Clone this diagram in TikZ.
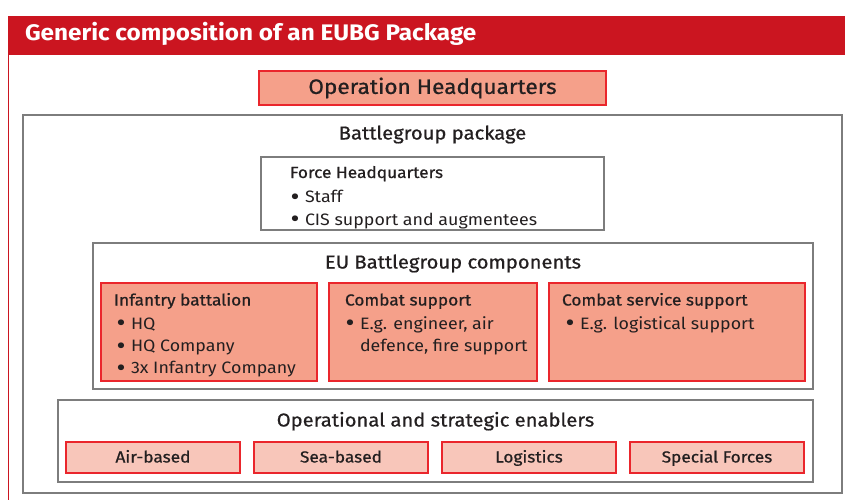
\documentclass[tikz,border=0pt]{standalone}
\usepackage{fontspec}
\setmainfont{Fira Sans}[FakeStretch=1.08]
\newfontfamily\medfont{Fira Sans}[FakeStretch=1.08, FakeBold=0.7]
\usetikzlibrary{positioning}

\definecolor{eured}{RGB}{203,21,32}
\definecolor{boxred}{RGB}{234,38,44}
\definecolor{salmon}{RGB}{245,160,138}
\definecolor{pinklight}{RGB}{248,198,186}
\definecolor{framegrey}{RGB}{125,125,125}
\definecolor{inktext}{RGB}{35,31,32}

\newcommand{\bul}{\makebox[14.5pt][l]{\smash{\raisebox{-0.17em}{\scalebox{1.55}{\textbullet}}}}}

\begin{document}
\begin{tikzpicture}[x=1pt, y=-1pt,
  every node/.style={text=inktext, inner sep=0pt, outer sep=0pt},
  greybox/.style={draw=framegrey, line width=1.2pt, fill=white, rectangle, anchor=north west},
  redbox/.style={draw=boxred, line width=1.2pt, fill=salmon, rectangle, anchor=north west},
  enabler/.style={draw=boxred, line width=1.2pt, fill=pinklight, rectangle,
                  minimum width=174pt, minimum height=31pt, text height=13pt, text depth=3pt,
                  font=\medfont\fontsize{16}{19}\selectfont},
  heading/.style={font=\medfont\fontsize{18.7}{22}\selectfont, anchor=base},
  boxtitle/.style={font=\medfont\fontsize{16}{19}\selectfont, anchor=base west, text height=12pt, text depth=3.5pt},
  item/.style={font=\fontsize{16.5}{20}\selectfont, anchor=base west, text height=12pt, text depth=3.5pt},
  nextitem/.style={item, below=22.3pt of #1.base west, anchor=base west}]
  \useasboundingbox (0,0) rectangle (845,500);

  % title bar and frame
  \fill[eured] (8,16) rectangle (845,55);
  \draw[eured, line width=0.8pt] (8,55) -- (8,500);
  \node[anchor=base west, text=white, font=\bfseries\fontsize{22.5}{26}\selectfont] (maintitle) at (25,40.5) {Generic composition of an EUBG Package};

  % operation headquarters
  \node[redbox, minimum width=347pt, minimum height=34pt, anchor=center,
        font=\medfont\fontsize{20.9}{24}\selectfont] (ohq) at (432.5,88) {Operation Headquarters};

  % battlegroup package
  \node[greybox, minimum width=819pt, minimum height=378pt] (bgp) at (23,115) {};
  \node[heading] (bgptitle) at (432.5,139.5) {Battlegroup package};

  % force headquarters
  \node[greybox, minimum width=343pt, minimum height=73pt] (fhq) at (261,157) {};
  \node[boxtitle] (fhqtitle) at (290,178) {Force Headquarters};
  \node[item] (fhq1) at (290.5,202.7) {\bul Staff};
  \node[nextitem=fhq1] (fhq2) {\bul CIS support and augmentees};

  % EU battlegroup components
  \node[greybox, minimum width=720pt, minimum height=146pt] (comp) at (93,243) {};
  \node[heading] (comptitle) at (453,268.5) {EU Battlegroup components};

  \node[redbox, minimum width=216pt, minimum height=98pt] (inf) at (101,283) {};
  \node[boxtitle] (inftitle) at (114,305.5) {Infantry battalion};
  \node[item] (inf1) at (116.5,329) {\bul HQ};
  \node[nextitem=inf1] (inf2) {\bul HQ Company};
  \node[nextitem=inf2] (inf3) {\bul 3x Infantry Company};

  \node[redbox, minimum width=208pt, minimum height=98pt] (cs) at (329,283) {};
  \node[boxtitle] (cstitle) at (345,305.5) {Combat support};
  \node[item] (cs1) at (345.5,329) {\bul E.g. engineer, air};
  \node[nextitem=cs1] (cs2) {\phantom{\bul}defence, fire support};

  \node[redbox, minimum width=256pt, minimum height=98pt] (css) at (549,283) {};
  \node[boxtitle] (csstitle) at (562,305.5) {Combat service support};
  \node[item] (css1) at (565.5,329) {\bul E.g. logistical support};

  % operational and strategic enablers
  \node[greybox, minimum width=755pt, minimum height=82pt] (ose) at (58,400) {};
  \node[heading] (osetitle) at (435.5,426.5) {Operational and strategic enablers};

  \node[enabler, anchor=north west] (air) at (66,442) {Air-based};
  \node[enabler, right=14pt of air] (sea) {Sea-based};
  \node[enabler, right=14pt of sea] (log) {Logistics};
  \node[enabler, right=14pt of log] (sof) {Special Forces};
\end{tikzpicture}
\end{document}
